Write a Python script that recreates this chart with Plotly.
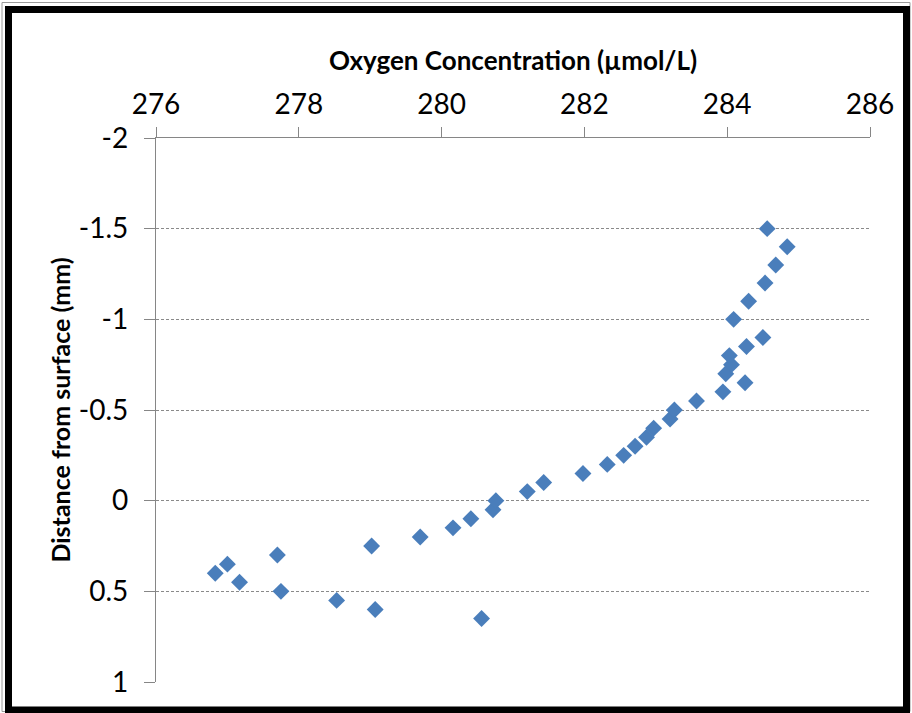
import plotly.graph_objects as go

# Data
oxygen = [276.83, 277.00, 277.17, 277.70, 277.75, 278.53, 279.02, 279.07, 279.70, 280.16,
          280.41, 280.56, 280.72, 280.76, 281.20, 281.43, 281.98, 282.32, 282.55, 282.71,
          282.87, 282.97, 283.20, 283.26, 283.57, 283.94, 284.25, 283.98, 284.06, 284.03,
          284.27, 284.50, 284.09, 284.30, 284.53, 284.68, 284.84, 284.56]
distance = [0.40, 0.35, 0.45, 0.30, 0.50, 0.55, 0.25, 0.60, 0.20, 0.15,
            0.10, 0.65, 0.05, 0.00, -0.05, -0.10, -0.15, -0.20, -0.25, -0.30,
            -0.35, -0.40, -0.45, -0.50, -0.55, -0.60, -0.65, -0.70, -0.75, -0.80,
            -0.85, -0.90, -1.00, -1.10, -1.20, -1.30, -1.40, -1.50]

x_ticks = [276, 278, 280, 282, 284, 286]
y_ticks = [-2, -1.5, -1, -0.5, 0, 0.5, 1]
y_tick_text = ["-2", "-1.5", "-1", "-0.5", "0", "0.5", "1"]

W, H = 912, 713
L, R, T, B = 156, 42, 138, 31
pw, ph = W - L - R, H - T - B

def px(x):
    return (x - L) / pw

def py(y):
    return (H - B - y) / ph

axis_col = "#868686"
font_fam = "Lato, 'Open Sans', sans-serif"

fig = go.Figure()
fig.add_trace(go.Scatter(
    x=oxygen, y=distance, mode="markers",
    marker=dict(symbol="diamond", size=13, color="#4A7EBB", line=dict(width=0)),
    showlegend=False,
))

fig.update_layout(
    width=W, height=H,
    margin=dict(l=L, r=R, t=T, b=B),
    paper_bgcolor="white", plot_bgcolor="white",
    font=dict(family=font_fam, color="#000000"),
    xaxis=dict(
        side="top", range=[276, 286], tickvals=x_ticks,
        showgrid=False, zeroline=False,
        showline=True, linecolor=axis_col, linewidth=1.3,
        ticks="outside", ticklen=10, tickcolor=axis_col, tickwidth=1.3,
        ticklabelstandoff=2,
        tickfont=dict(size=28, family=font_fam, color="#000000"),
        title=dict(text="<b>Oxygen Concentration (µmol/L)</b>",
                   font=dict(size=26, family=font_fam, color="#000000", weight="bold"),
                   standoff=7),
    ),
    yaxis=dict(
        range=[1, -2], tickvals=y_ticks, ticktext=y_tick_text,
        showgrid=True, gridcolor="#8a8a8a", griddash="3px,2px", gridwidth=1,
        zeroline=False,
        showline=True, linecolor=axis_col, linewidth=1.3,
        ticks="outside", ticklen=11, tickcolor=axis_col, tickwidth=1.3,
        ticklabelstandoff=10,
        tickfont=dict(size=28, family=font_fam, color="#000000"),
        title=dict(text="<b>Distance from surface (mm)</b>",
                   font=dict(size=25, family=font_fam, color="#000000", weight="bold"),
                   standoff=1),
    ),
    shapes=[
        dict(type="rect", xref="paper", yref="paper",
             x0=px(2), x1=px(910), y0=py(711.5), y1=py(2.5),
             line=dict(color="#9a9a9a", width=1), layer="above"),
        dict(type="rect", xref="paper", yref="paper",
             x0=px(8.5), x1=px(906.5), y0=py(710), y1=py(9.5),
             line=dict(color="black", width=7), layer="above"),
    ],
)

fig.write_html("out.html", config={"displayModeBar": False},
               post_script="document.body.style.margin='0';")
